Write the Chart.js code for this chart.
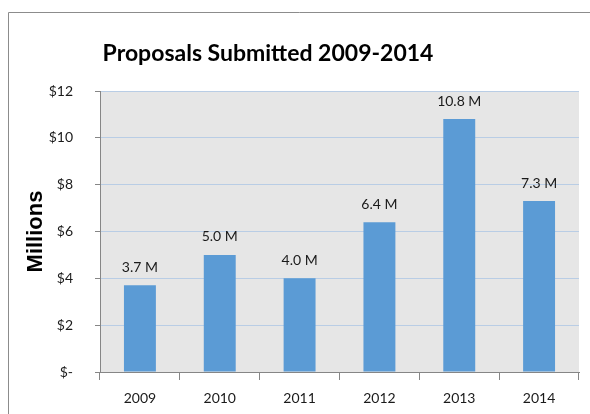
<!DOCTYPE html>
<html><head><meta charset="utf-8">
<script src="https://cdn.jsdelivr.net/npm/chart.js@4"></script>
<style>html,body{margin:0;padding:0;background:#fff}#wrap{width:590px;height:414px;position:relative}</style>
</head><body><div id="wrap"><canvas id="c" width="590" height="414"></canvas></div>
<script>
const categories = ['2009','2010','2011','2012','2013','2014'];
const values = [3.7, 5.0, 4.0, 6.4, 10.8, 7.3];
const yMin = 0, yMax = 12, yStep = 2;
const chartTitle = 'Proposals Submitted 2009-2014';
const yTitle = 'Millions';

const frame = {id:'frame',
  afterLayout(chart){
    const t = chart.titleBlock;
    if (t) { const w = t.right - t.left; t.left = 0; t.right = 536; t.width = 536; }
  },
  beforeDraw(chart){
    const ctx = chart.ctx; ctx.save();
    ctx.strokeStyle = '#8c8c8c'; ctx.lineWidth = 1;
    ctx.beginPath(); ctx.moveTo(8.5, 420); ctx.lineTo(8.5, 12.5); ctx.lineTo(600, 12.5); ctx.stroke();
    const a = chart.chartArea;
    ctx.fillStyle = '#e6e6e6'; ctx.fillRect(a.left, a.top, a.right - a.left, a.bottom - a.top);
    ctx.restore();
  }
};
const labels = {id:'labels', afterDatasetsDraw(chart){
  const ctx = chart.ctx; ctx.save();
  ctx.font = '14px Lato'; ctx.fillStyle = '#1a1a1a'; ctx.textAlign = 'center'; ctx.textBaseline = 'middle';
  chart.getDatasetMeta(0).data.forEach((bar, i) => {
    ctx.fillText(values[i].toFixed(1) + ' M', bar.x, bar.y - 18);
  });
  ctx.restore();
}};

new Chart(document.getElementById('c'), {
  type: 'bar',
  data: { labels: categories, datasets: [{ data: values, backgroundColor: '#5b9bd5', borderWidth: 0, barPercentage: 0.4, categoryPercentage: 1.0 }] },
  options: {
    responsive: false, animation: false, devicePixelRatio: 1,
    layout: { padding: { left: 0, right: 11, top: 0, bottom: 0 } },
    plugins: {
      legend: { display: false }, tooltip: { enabled: false },
      title: { display: true, text: chartTitle, color: '#000', font: { family: 'Lato', size: 23, weight: 'bold' }, padding: { top: 40, bottom: 23.4 } }
    },
    scales: {
      x: {
        grid: { display: true, drawOnChartArea: false, drawTicks: true, tickLength: 8, tickColor: '#868686', offset: true },
        border: { display: true, color: '#868686' },
        ticks: { color: '#1a1a1a', font: { family: 'Lato', size: 14 }, padding: 10, maxRotation: 0 },
        afterFit(s){ s.height = 42; }
      },
      y: {
        min: yMin, max: yMax,
        grid: { color: '#b9cde5', tickColor: '#868686', tickLength: 5, drawTicks: true },
        border: { display: true, color: '#868686' },
        ticks: { stepSize: yStep, color: '#1a1a1a', font: { family: 'Lato', size: 14 }, padding: 22,
          callback: v => v === 0 ? '$-' : '$' + v },
        title: { display: true, text: yTitle, color: '#000', font: { family: 'Liberation Sans', size: 22, weight: 'bold' }, padding: { top: 23, bottom: 0 } },
        afterFit(s){ s.width = 100; }
      }
    }
  },
  plugins: [frame, labels]
});
</script></body></html>
